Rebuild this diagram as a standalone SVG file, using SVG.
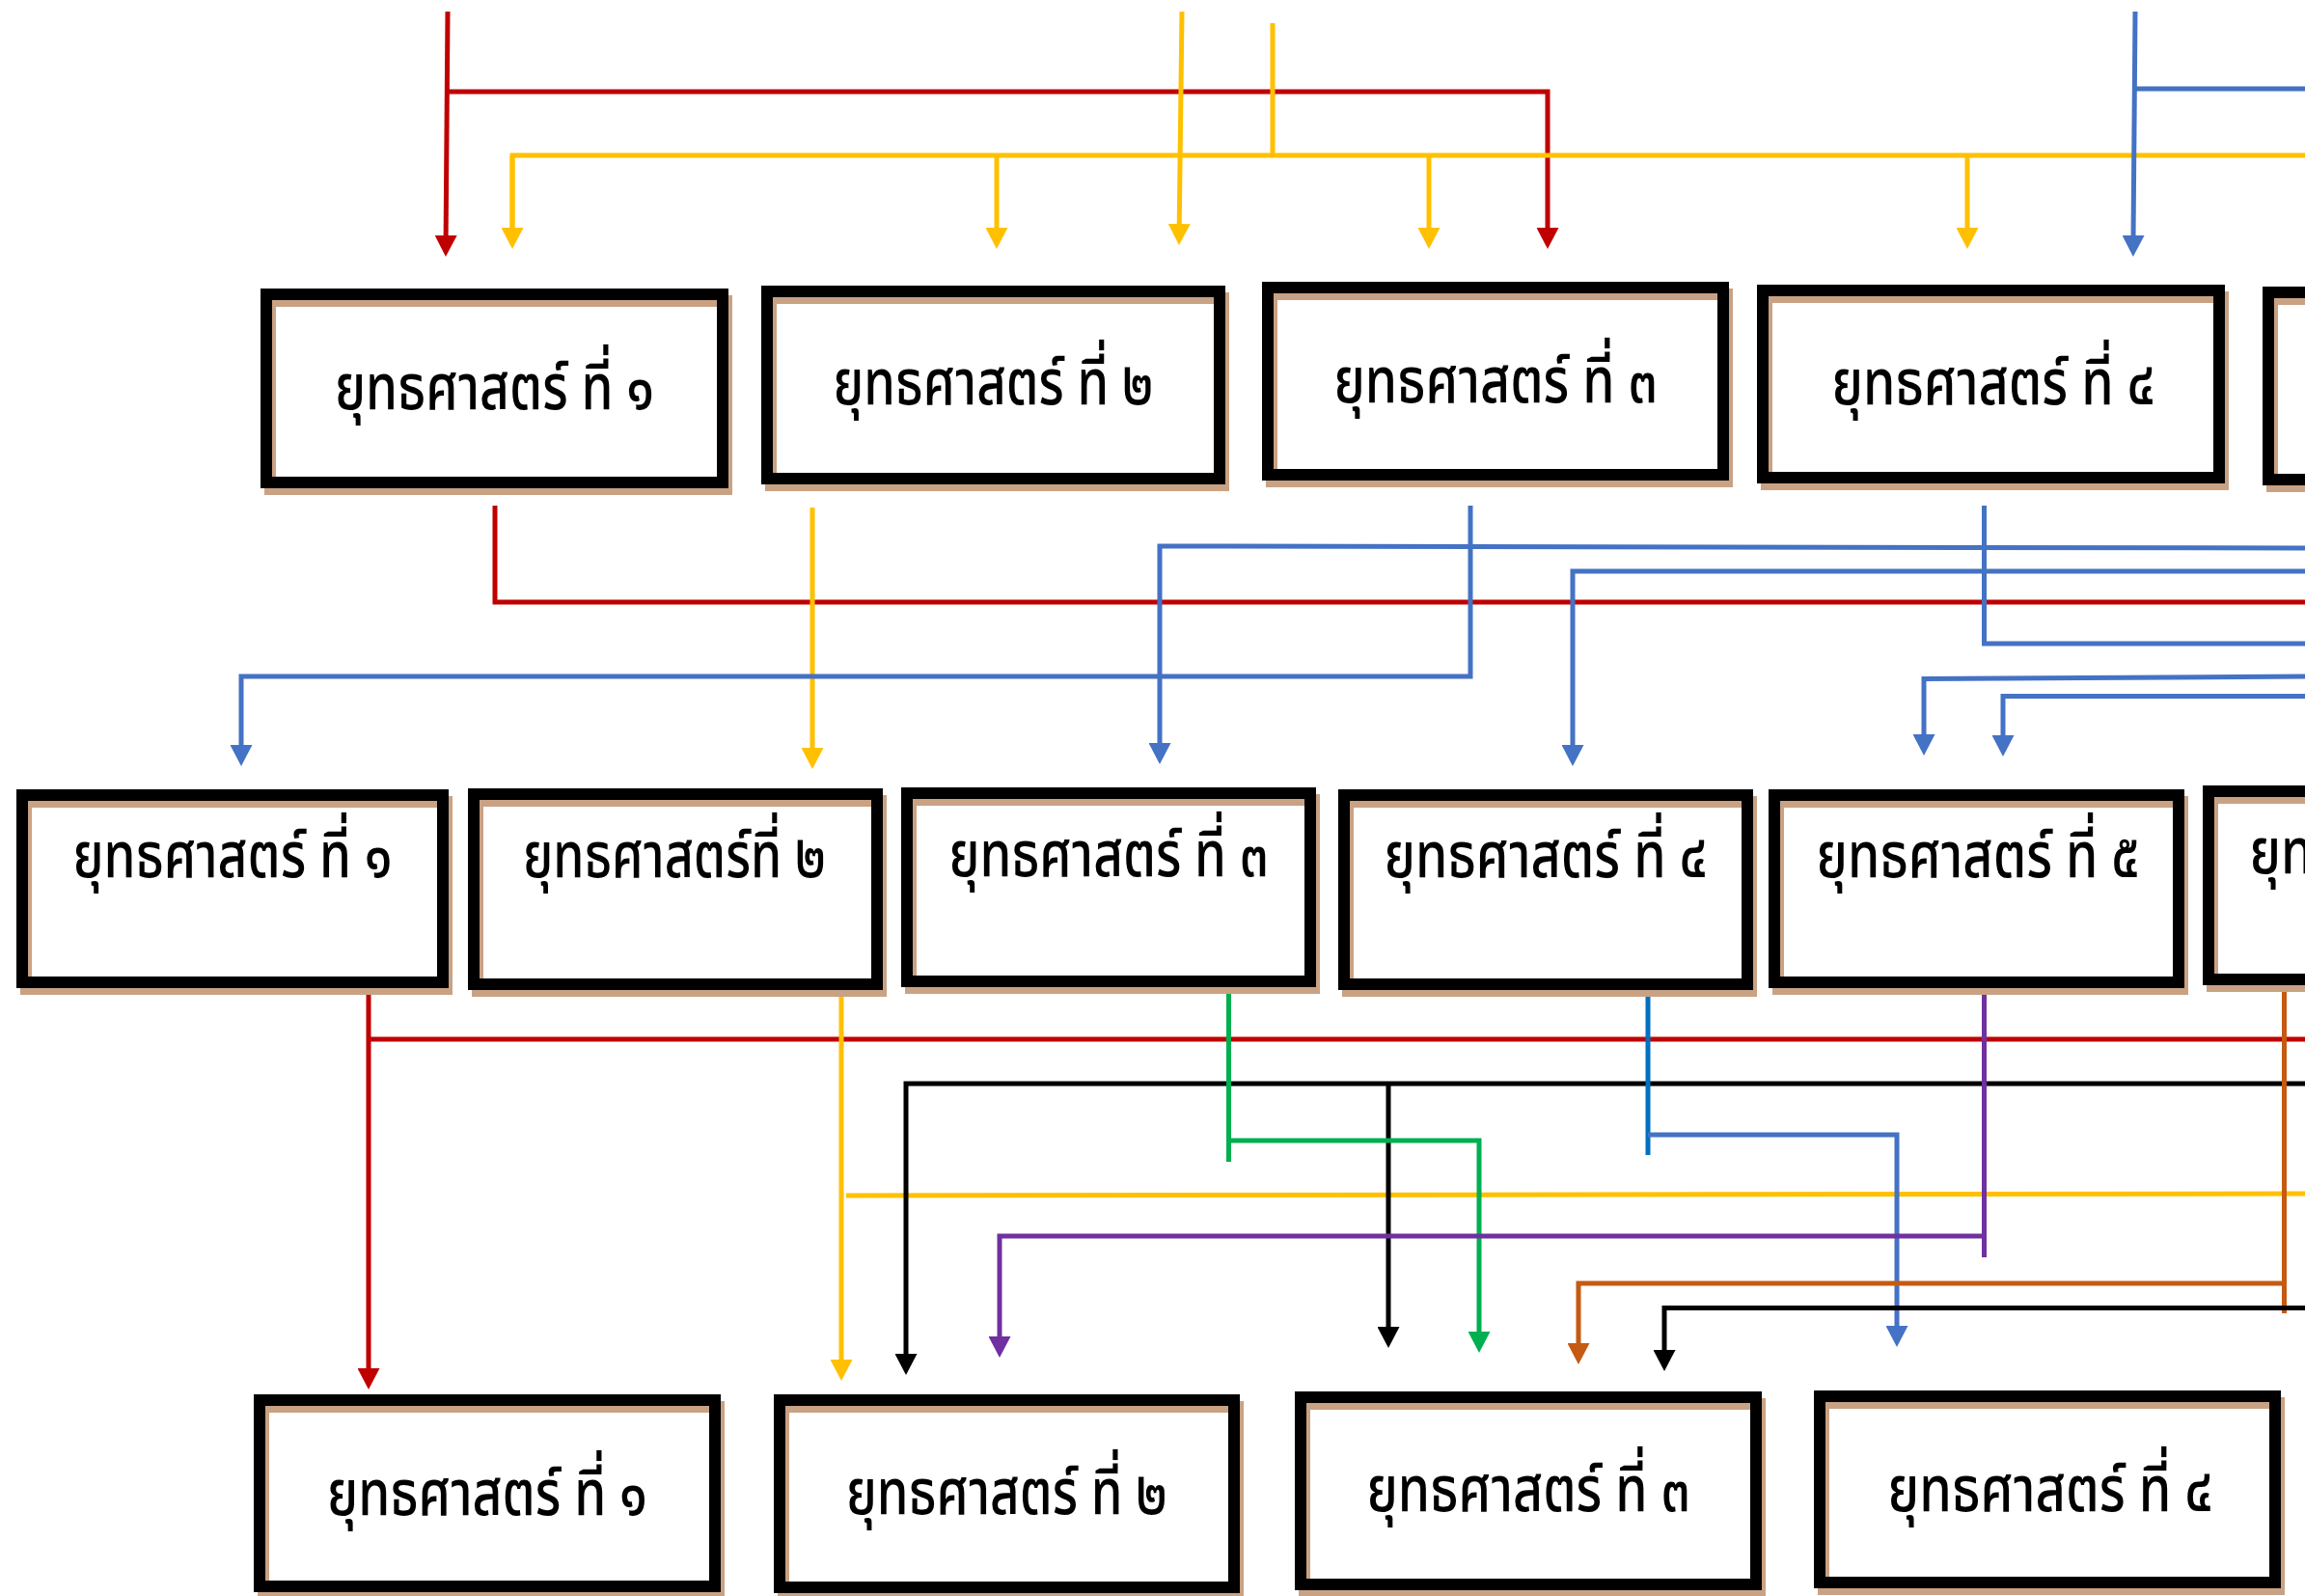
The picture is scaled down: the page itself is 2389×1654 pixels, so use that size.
<svg xmlns="http://www.w3.org/2000/svg" width="2389" height="1654" viewBox="0 0 2389 1654">
<defs>
<style>
.sh{fill:none;stroke:#C9A284;stroke-width:12}
.bx{fill:none;stroke:#000;stroke-width:12}
.t{font-family:"Noto Sans Thai","Noto Sans","DejaVu Sans",sans-serif;font-size:66px;font-weight:500;fill:#000;text-anchor:middle}
.c{fill:none;stroke-width:5;stroke-linejoin:miter}
.red{stroke:#C00000}.yel{stroke:#FFC000}.blu{stroke:#4472C4}.grn{stroke:#00B050}.pur{stroke:#7030A0}.org{stroke:#C55A11}.bbl{stroke:#0070C0}.blk{stroke:#000}
</style>
<marker id="aR" markerUnits="userSpaceOnUse" markerWidth="23" markerHeight="23" refX="4" refY="11.5" orient="auto"><path d="M0,0 L22,11.5 L0,23 z" fill="#C00000"/></marker>
<marker id="aY" markerUnits="userSpaceOnUse" markerWidth="23" markerHeight="23" refX="4" refY="11.5" orient="auto"><path d="M0,0 L22,11.5 L0,23 z" fill="#FFC000"/></marker>
<marker id="aB" markerUnits="userSpaceOnUse" markerWidth="23" markerHeight="23" refX="4" refY="11.5" orient="auto"><path d="M0,0 L22,11.5 L0,23 z" fill="#4472C4"/></marker>
<marker id="aG" markerUnits="userSpaceOnUse" markerWidth="23" markerHeight="23" refX="4" refY="11.5" orient="auto"><path d="M0,0 L22,11.5 L0,23 z" fill="#00B050"/></marker>
<marker id="aP" markerUnits="userSpaceOnUse" markerWidth="23" markerHeight="23" refX="4" refY="11.5" orient="auto"><path d="M0,0 L22,11.5 L0,23 z" fill="#7030A0"/></marker>
<marker id="aO" markerUnits="userSpaceOnUse" markerWidth="23" markerHeight="23" refX="4" refY="11.5" orient="auto"><path d="M0,0 L22,11.5 L0,23 z" fill="#C55A11"/></marker>
<marker id="aK" markerUnits="userSpaceOnUse" markerWidth="23" markerHeight="23" refX="4" refY="11.5" orient="auto"><path d="M0,0 L22,11.5 L0,23 z" fill="#000"/></marker>
</defs>
<rect width="2389" height="1654" fill="#fff"/>

<g id="connectors">
<!-- top -->
<path class="c red" d="M464,12 L462.1,248" marker-end="url(#aR)"/>
<path class="c red" d="M464,95 H1604 V240" marker-end="url(#aR)"/>
<path class="c yel" d="M1225,12 L1222.2,236" marker-end="url(#aY)"/>
<path class="c yel" d="M1319,24 V161"/>
<path class="c yel" d="M531,240 V161 H2389"/>
<path class="c yel" d="M1033,161 V240" marker-end="url(#aY)"/>
<path class="c yel" d="M1481,161 V240" marker-end="url(#aY)"/>
<path class="c yel" d="M2039,161 V240" marker-end="url(#aY)"/>
<path class="c yel" d="M531,161 V240" marker-end="url(#aY)"/>
<path class="c blu" d="M2213,12 L2211,248" marker-end="url(#aB)"/>
<path class="c blu" d="M2213,92 H2389"/>
<!-- middle -->
<path class="c red" d="M513,524 V624 H2389"/>
<path class="c yel" d="M842,526 V779" marker-end="url(#aY)"/>
<path class="c blu" d="M1524,524 V701 H250 V776" marker-end="url(#aB)"/>
<path class="c blu" d="M2389,568 L1202,566 V774" marker-end="url(#aB)"/>
<path class="c blu" d="M2389,592 H1630 V776" marker-end="url(#aB)"/>
<path class="c blu" d="M2056.5,524 V667 H2389"/>
<path class="c blu" d="M2389,701 L1994,703.5 V765" marker-end="url(#aB)"/>
<path class="c blu" d="M2389,721.5 H2076 V766" marker-end="url(#aB)"/>
<!-- bottom -->
<path class="c red" d="M382,1029 V1422" marker-end="url(#aR)"/>
<path class="c red" d="M382,1077 H2389"/>
<path class="c yel" d="M872,1023 V1413" marker-end="url(#aY)"/>
<path class="c yel" d="M877,1239 L2389,1237"/>
<path class="c blk" d="M2389,1123 H939 V1407" marker-end="url(#aK)"/>
<path class="c blk" d="M1439,1123 V1379" marker-end="url(#aK)"/>
<path class="c grn" d="M1273.5,1024 V1204"/>
<path class="c grn" d="M1273.5,1182 H1533 V1384" marker-end="url(#aG)"/>
<path class="c bbl" d="M1708,1020 V1197"/>
<path class="c blu" d="M1708,1176 H1966 V1378" marker-end="url(#aB)"/>
<path class="c pur" d="M2056.5,1024 V1303"/>
<path class="c pur" d="M2056.5,1281 H1036 V1389" marker-end="url(#aP)"/>
<path class="c org" d="M2367.5,1022 V1361"/>
<path class="c org" d="M2367.5,1330 H1636 V1396" marker-end="url(#aO)"/>
<path class="c blk" d="M2389,1355.5 H1725 V1403" marker-end="url(#aK)"/>
</g>

<g id="r1b1"><rect class="sh" x="280" y="312" width="473" height="195"/><rect class="bx" x="276" y="305" width="473" height="195"/><text class="t" x="512.5" y="424" textLength="331" lengthAdjust="spacingAndGlyphs">ยุทธศาสตร์ ที่ ๑</text></g>
<g id="r1b2"><rect class="sh" x="799" y="309" width="469" height="194"/><rect class="bx" x="795" y="302" width="469" height="194"/><text class="t" x="1029.5" y="419" textLength="332" lengthAdjust="spacingAndGlyphs">ยุทธศาสตร์ ที่ ๒</text></g>
<g id="r1b3"><rect class="sh" x="1318" y="305" width="472" height="194"/><rect class="bx" x="1314" y="298" width="472" height="194"/><text class="t" x="1550" y="417" textLength="335" lengthAdjust="spacingAndGlyphs">ยุทธศาสตร์ ที่ ๓</text></g>
<g id="r1b4"><rect class="sh" x="1831" y="308" width="473" height="194"/><rect class="bx" x="1827" y="301" width="473" height="194"/><text class="t" x="2066" y="419" textLength="335" lengthAdjust="spacingAndGlyphs">ยุทธศาสตร์ ที่ ๔</text></g>
<g id="r1b5"><rect class="sh" x="2355" y="310" width="480" height="194"/><rect class="bx" x="2351" y="303" width="480" height="194"/></g>

<g id="r2b1"><rect class="sh" x="27" y="831" width="436" height="194"/><rect class="bx" x="23" y="824" width="436" height="194"/><text class="t" x="241" y="909" textLength="331" lengthAdjust="spacingAndGlyphs">ยุทธศาสตร์ ที่ ๑</text></g>
<g id="r2b2"><rect class="sh" x="495" y="830" width="418" height="197"/><rect class="bx" x="491" y="823" width="418" height="197"/><text class="t" x="699" y="909" textLength="314" lengthAdjust="spacingAndGlyphs">ยุทธศาสตร์ที่ ๒</text></g>
<g id="r2b3"><rect class="sh" x="944" y="829" width="418" height="195"/><rect class="bx" x="940" y="822" width="418" height="195"/><text class="t" x="1149" y="908" textLength="331" lengthAdjust="spacingAndGlyphs">ยุทธศาสตร์ ที่ ๓</text></g>
<g id="r2b4"><rect class="sh" x="1397" y="831" width="418" height="196"/><rect class="bx" x="1393" y="824" width="418" height="196"/><text class="t" x="1602" y="909" textLength="335" lengthAdjust="spacingAndGlyphs">ยุทธศาสตร์ ที่ ๔</text></g>
<g id="r2b5"><rect class="sh" x="1843" y="831" width="419" height="194"/><rect class="bx" x="1839" y="824" width="419" height="194"/><text class="t" x="2050" y="909" textLength="335" lengthAdjust="spacingAndGlyphs">ยุทธศาสตร์ ที่ ๕</text></g>
<g id="r2b6"><rect class="sh" x="2293" y="827" width="420" height="195"/><rect class="bx" x="2289" y="820" width="420" height="195"/><text class="t" x="2499" y="905" textLength="335" lengthAdjust="spacingAndGlyphs">ยุทธศาสตร์ ที่ ๖</text></g>

<g id="r3b1"><rect class="sh" x="273" y="1458" width="472" height="193"/><rect class="bx" x="269" y="1451" width="472" height="193"/><text class="t" x="505" y="1570" textLength="332" lengthAdjust="spacingAndGlyphs">ยุทธศาสตร์ ที่ ๑</text></g>
<g id="r3b2"><rect class="sh" x="812" y="1458" width="471" height="194"/><rect class="bx" x="808" y="1451" width="471" height="194"/><text class="t" x="1043.5" y="1569" textLength="333" lengthAdjust="spacingAndGlyphs">ยุทธศาสตร์ ที่ ๒</text></g>
<g id="r3b3"><rect class="sh" x="1352" y="1455" width="472" height="194"/><rect class="bx" x="1348" y="1448" width="472" height="194"/><text class="t" x="1584" y="1566" textLength="335" lengthAdjust="spacingAndGlyphs">ยุทธศาสตร์ ที่ ๓</text></g>
<g id="r3b4"><rect class="sh" x="1890" y="1454" width="472" height="193"/><rect class="bx" x="1886" y="1447" width="472" height="193"/><text class="t" x="2125" y="1566" textLength="337" lengthAdjust="spacingAndGlyphs">ยุทธศาสตร์ ที่ ๔</text></g>
</svg>
